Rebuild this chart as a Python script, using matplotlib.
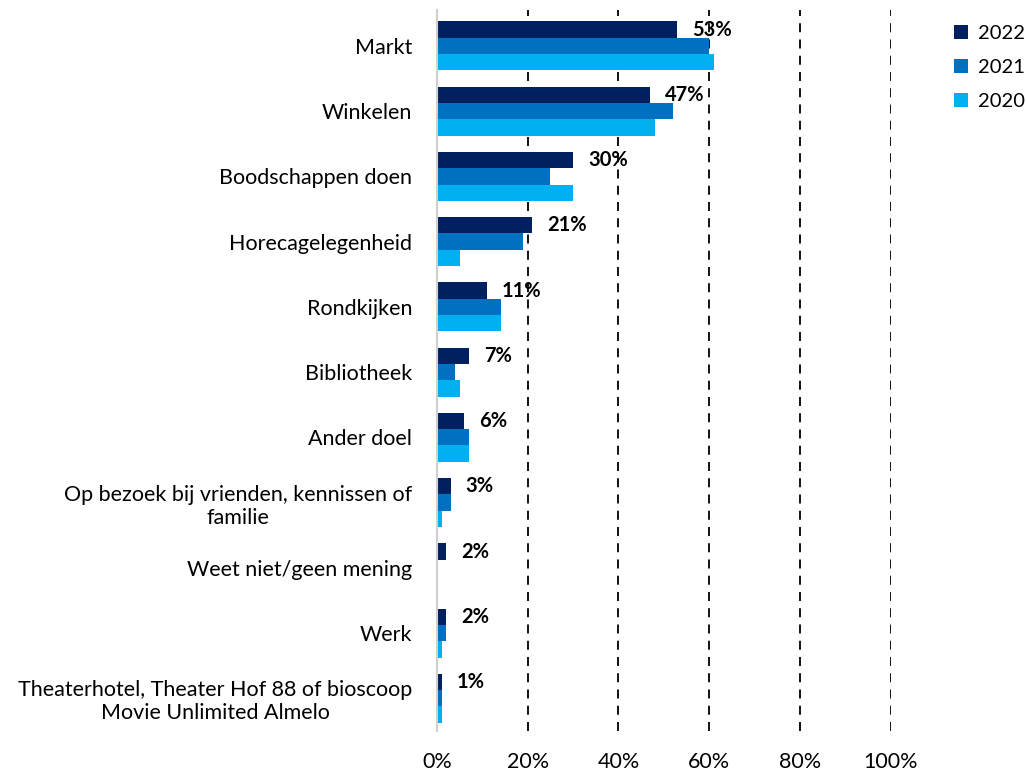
import matplotlib.pyplot as plt
import numpy as np

plt.rcParams['font.family'] = ['Lato', 'DejaVu Sans']

categories = [
    "Markt",
    "Winkelen",
    "Boodschappen doen",
    "Horecagelegenheid",
    "Rondkijken",
    "Bibliotheek",
    "Ander doel",
    "Op bezoek bij vrienden, kennissen of\nfamilie",
    "Weet niet/geen mening",
    "Werk",
    "Theaterhotel, Theater Hof 88 of bioscoop\nMovie Unlimited Almelo",
]
v2022 = [53, 47, 30, 21, 11, 7, 6, 3, 2, 2, 1]
v2021 = [60, 52, 25, 19, 14, 4, 7, 3, 0, 2, 1]
v2020 = [61, 48, 30, 5, 14, 5, 7, 1, 0, 1, 1]
years = ["2022", "2021", "2020"]
colors = ["#002060", "#0070C0", "#00B0F0"]
xticks = [0, 20, 40, 60, 80, 100]

fig = plt.figure(figsize=(10.26, 7.71), dpi=100)
ax = fig.add_axes([0.426, 0.052, 0.442, 0.935])

y = np.arange(len(categories))
h = 0.25
for i, (vals, yr, c) in enumerate(zip([v2022, v2021, v2020], years, colors)):
    ax.barh(y + (i - 1) * h, vals, height=h, color=c, label=yr)

for yi, v in zip(y, v2022):
    ax.text(v + 3.3, yi - h + 0.0, f"{v}%", ha="left", va="center",
            fontsize=14.5, fontweight="bold", color="black")

ax.set_ylim(len(categories) - 0.5, -0.55)
ax.set_xlim(0, 100)
ax.set_yticks(y)
ax.set_yticklabels(categories, fontsize=15.5, multialignment="center")
ax.set_xticks(xticks)
ax.set_xticklabels([f"{t}%" for t in xticks], fontsize=15.5)
ax.tick_params(axis="both", length=0)
ax.tick_params(axis="y", pad=18)
ax.tick_params(axis="x", pad=15)

for t in xticks[1:]:
    ax.axvline(t, color="black", linestyle=(0, (5, 4)), linewidth=1.3, zorder=0)

for s in ["top", "right", "bottom"]:
    ax.spines[s].set_visible(False)
ax.spines["left"].set_color("#d0d0d0")
ax.spines["left"].set_linewidth(1.5)

ax.legend(loc="upper left", bbox_to_anchor=(1.1, 1.005), frameon=False,
          fontsize=14.5, handlelength=0.7, handleheight=0.7, labelspacing=0.85,
          handletextpad=0.5)

fig.savefig("out.png", dpi=100)
